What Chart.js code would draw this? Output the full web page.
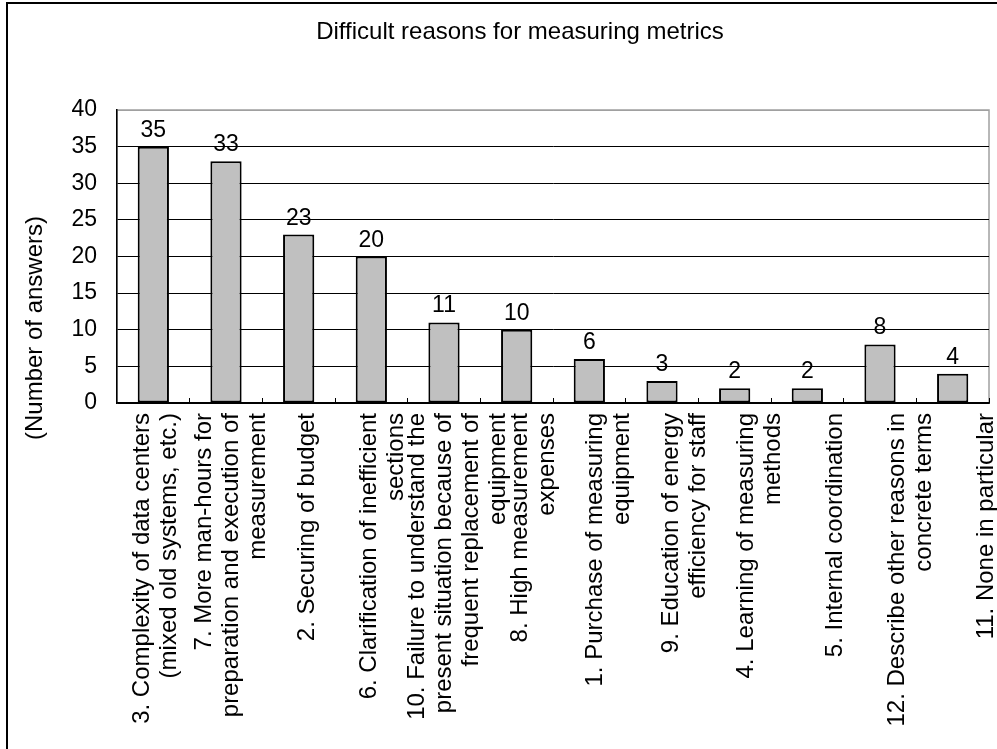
<!DOCTYPE html>
<html>
<head>
<meta charset="utf-8">
<title>Difficult reasons for measuring metrics</title>
<script src="https://cdn.jsdelivr.net/npm/chart.js@4.4.1/dist/chart.umd.min.js"></script>
<style>
  html, body { margin: 0; padding: 0; background: #fff; overflow: hidden; }
  #chartBox { width: 997px; height: 749px; }
</style>
</head>
<body>
<div id="chartBox"><canvas id="reasonsChart" width="997" height="749"></canvas></div>
<script>
"use strict";

const chartTitle = "Difficult reasons for measuring metrics";
const yAxisTitle = "(Number of answers)";

const categories = [
  ["3. Complexity of data centers", "(mixed old systems, etc.)"],
  ["7. More man-hours for", "preparation and execution of", "measurement"],
  ["2. Securing of budget"],
  ["6. Clarification of inefficient", "sections"],
  ["10. Failure to understand the", "present situation because of", "frequent replacement of", "equipment"],
  ["8. High measurement", "expenses"],
  ["1. Purchase of measuring", "equipment"],
  ["9. Education of energy", "efficiency for staff"],
  ["4. Learning of measuring", "methods"],
  ["5. Internal coordination"],
  ["12. Describe other reasons in", "concrete terms"],
  ["11. None in particular"],
];
const answers = [35, 33, 23, 20, 11, 10, 6, 3, 2, 2, 8, 4];

const yMin = 0;
const yMax = 40;
const yStep = 5;

const fontFamily = '"Liberation Sans", Arial, sans-serif';
const textFont = "24px " + fontFamily;
const numberFont = "23px " + fontFamily;

// frame, plot border and the texts that Chart.js can't place like Excel does
const decorations = {
  id: "decorations",
  beforeDraw: (chart) => {
    const { ctx, chartArea } = chart;
    ctx.save();
    ctx.fillStyle = "#fff";
    ctx.fillRect(0, 0, chart.width, chart.height);
    ctx.strokeStyle = "#000";
    ctx.lineWidth = 2;
    ctx.strokeRect(7, 3, chart.width + 50, chart.height + 50);
    ctx.strokeStyle = "#a0a0a0";
    ctx.lineWidth = 1.5;
    ctx.strokeRect(chartArea.left, chartArea.top, chartArea.right - chartArea.left, chartArea.bottom - chartArea.top);
    ctx.restore();
  },
  afterDatasetsDraw: (chart) => {
    const { ctx } = chart;
    const meta = chart.getDatasetMeta(0);
    ctx.save();
    ctx.font = numberFont;
    ctx.fillStyle = "#000";
    ctx.textAlign = "center";
    ctx.textBaseline = "alphabetic";
    meta.data.forEach((bar, i) => {
      ctx.fillText(String(answers[i]), bar.x, bar.y - 10);
    });
    ctx.restore();
  },
  afterDraw: (chart) => {
    const { ctx, scales } = chart;
    const x = scales.x;
    ctx.save();
    ctx.fillStyle = "#000";

    ctx.font = textFont;
    ctx.textAlign = "center";
    ctx.textBaseline = "middle";
    ctx.fillText(chartTitle, 520, 32);

    ctx.save();
    ctx.translate(35, 328);
    ctx.rotate(-Math.PI / 2);
    ctx.fillText(yAxisTitle, 0, 0);
    ctx.restore();

    // Excel spreads the rotated labels a little wider than the bars
    const lineGap = 27;
    const labelShift = 3;
    const labelSpread = 2.8;
    ctx.textAlign = "right";
    categories.forEach((lines, i) => {
      const cx = x.getPixelForValue(i) + labelShift + i * labelSpread;
      lines.forEach((line, j) => {
        const lx = cx + (j - (lines.length - 1) / 2) * lineGap;
        ctx.save();
        ctx.translate(lx, x.top + 10);
        ctx.rotate(-Math.PI / 2);
        ctx.fillText(line, 0, 0);
        ctx.restore();
      });
    });
    ctx.restore();
  },
};

const ctx = document.getElementById("reasonsChart").getContext("2d");
const reasonsChart = new Chart(ctx, {
  type: "bar",
  data: {
    labels: categories,
    datasets: [
      {
        data: answers,
        backgroundColor: "#c0c0c0",
        borderColor: "#000",
        borderWidth: 2,
        borderSkipped: false,
        barPercentage: 0.43,
        categoryPercentage: 1,
      },
    ],
  },
  options: {
    responsive: false,
    animation: false,
    events: [],
    layout: { padding: { top: 110, right: 8, left: 0, bottom: 0 } },
    plugins: {
      legend: { display: false },
      title: { display: false },
      tooltip: { enabled: false },
    },
    scales: {
      x: {
        offset: true,
        ticks: { display: false },
        grid: {
          display: true,
          offset: true,
          drawOnChartArea: false,
          drawTicks: true,
          tickLength: -5,
          color: "#000",
        },
        border: { color: "#000", width: 1.5 },
        afterFit: (scale) => {
          scale.height = 346;
        },
      },
      y: {
        min: yMin,
        max: yMax,
        ticks: {
          stepSize: yStep,
          padding: 20,
          color: "#000",
          font: { family: fontFamily, size: 23 },
        },
        grid: {
          drawTicks: false,
          color: (c) => (c.tick && c.tick.value === yMax ? "#a0a0a0" : "#000"),
          lineWidth: 1,
        },
        border: { color: "#000", width: 1.5 },
        afterFit: (scale) => {
          scale.width = 117;
        },
      },
    },
  },
  plugins: [decorations],
});
</script>
</body>
</html>
